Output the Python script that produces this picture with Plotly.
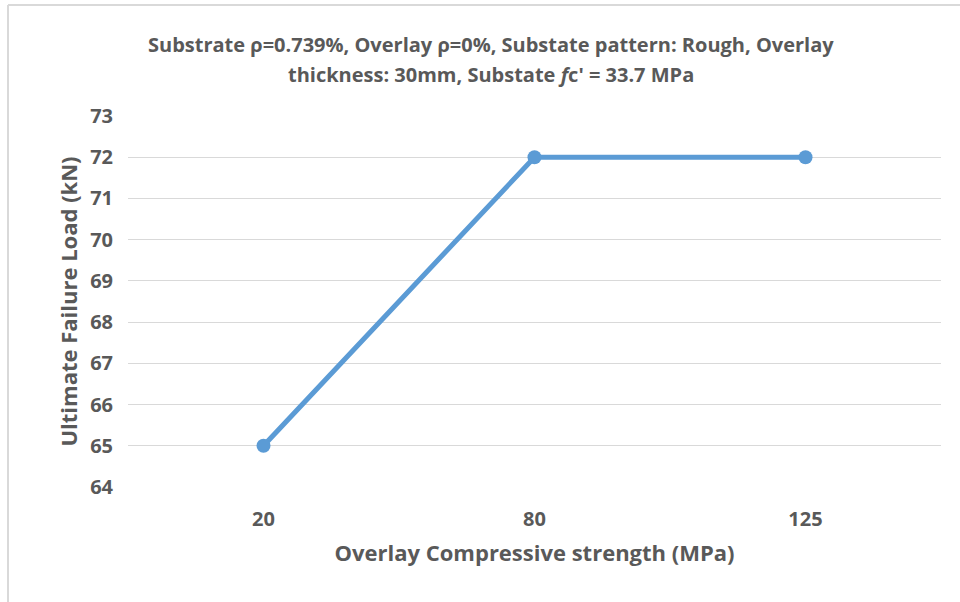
import plotly.graph_objects as go

# Overlay compressive strength categories (MPa) and ultimate failure loads (kN)
strength = ["20", "80", "125"]
failure_load = [65, 72, 72]
y_ticks = list(range(64, 74))

title_lines = [
    "Substrate ρ=0.739%, Overlay ρ=0%, Substate pattern: Rough, Overlay",
    "thickness: 30mm, Substate <i>f</i>c' = 33.7 MPa",
]

font_family = "Open Sans"
text_color = "#595959"
line_color = "#5B9BD5"
grid_color = "#D9D9D9"

fig = go.Figure()
fig.add_trace(go.Scatter(
    x=strength, y=failure_load,
    mode="lines+markers",
    line=dict(color=line_color, width=5),
    marker=dict(color=line_color, size=14),
    showlegend=False,
))

# Two-line chart title, placed as annotations for tight control of line spacing
annotations = []
for line, ypos in zip(title_lines, [1.194, 1.113]):
    annotations.append(dict(
        text=f"<b>{line}</b>", xref="paper", yref="paper",
        x=0.446, y=ypos, xanchor="center", yanchor="middle",
        showarrow=False,
        font=dict(size=20, color=text_color, family=font_family),
    ))

fig.update_layout(
    width=960, height=602,
    margin=dict(l=128, r=19, t=116, b=115),
    paper_bgcolor="white", plot_bgcolor="white",
    font=dict(family=font_family, color=text_color),
    annotations=annotations,
    xaxis=dict(
        type="category", range=[-0.5, 2.5],
        tickvals=strength, ticktext=[f"<b>{s}</b>" for s in strength],
        showgrid=False, zeroline=False, showline=False, ticks="",
        tickfont=dict(size=20, color=text_color, family=font_family),
        ticklabelstandoff=18,
        title=dict(text="<b>Overlay Compressive strength (MPa)</b>",
                   font=dict(size=22, color=text_color), standoff=14),
    ),
    yaxis=dict(
        range=[64, 73], tickvals=y_ticks,
        ticktext=[f"<b>{v}</b>" for v in y_ticks],
        showgrid=True, gridcolor=grid_color, gridwidth=1.3,
        zeroline=False, showline=False, ticks="",
        tickfont=dict(size=20, color=text_color, family=font_family),
        ticklabelstandoff=14,
        title=dict(text="<b>Ultimate Failure Load (kN)</b>",
                   font=dict(size=22, color=text_color), standoff=6),
    ),
    shapes=[
        dict(type="line", xref="paper", yref="paper",
             x0=-0.1476, x1=-0.1476, y0=-0.5, y1=1.299,
             line=dict(color="#D9D9D9", width=2)),
        dict(type="line", xref="paper", yref="paper",
             x0=-0.1476, x1=1.05, y0=1.299, y1=1.299,
             line=dict(color="#D9D9D9", width=2)),
    ],
)

fig.write_html("out.html")
